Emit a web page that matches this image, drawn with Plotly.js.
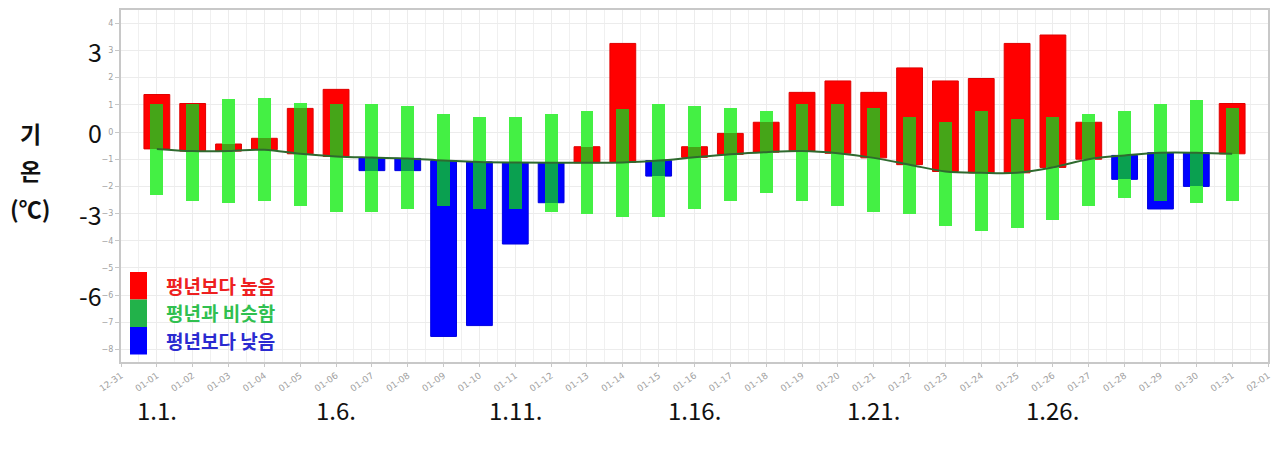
<!DOCTYPE html>
<html><head><meta charset="utf-8">
<script src="https://cdn.plot.ly/plotly-3.0.1.min.js"></script>
<style>html,body{margin:0;padding:0;background:#fff}#chart{width:1280px;height:453px}</style>
</head><body><div id="chart"></div>
<script>
// ---- data ----
const tickLabels = ["12-31","01-01","01-02","01-03","01-04","01-05","01-06","01-07","01-08","01-09","01-10",
  "01-11","01-12","01-13","01-14","01-15","01-16","01-17","01-18","01-19","01-20",
  "01-21","01-22","01-23","01-24","01-25","01-26","01-27","01-28","01-29","01-30","01-31","02-01"];
const days = [1,2,3,4,5,6,7,8,9,10,11,12,13,14,15,16,17,18,19,20,21,22,23,24,25,26,27,28,29,30,31];
// observed temperature (top of red / bottom of blue bar)
const actual = [1.38,1.05,-0.44,-0.23,0.87,1.57,-1.42,-1.42,-7.52,-7.12,-4.12,-2.60,-0.54,3.26,-1.62,
  -0.54,-0.05,0.36,1.46,1.88,1.46,2.36,1.88,1.97,3.26,3.57,0.36,-1.74,-2.83,-2.00,1.05];
// normal (line)
const normal = [-0.62,-0.70,-0.70,-0.65,-0.80,-0.90,-0.94,-0.97,-1.05,-1.10,-1.12,-1.13,-1.13,-1.12,-1.05,
  -0.93,-0.82,-0.74,-0.70,-0.78,-0.95,-1.20,-1.45,-1.50,-1.50,-1.30,-1.00,-0.86,-0.76,-0.76,-0.80];
// normal range
const upper = [1.05,1.05,1.20,1.27,1.08,1.05,1.05,0.96,0.66,0.54,0.54,0.66,0.77,0.84,1.05,
  0.96,0.87,0.77,1.05,1.05,0.87,0.54,0.36,0.77,0.47,0.54,0.65,0.77,1.05,1.18,0.87];
const lower = [-2.32,-2.54,-2.62,-2.54,-2.72,-2.93,-2.93,-2.83,-2.72,-2.83,-2.83,-2.93,-3.03,-3.14,-3.14,
  -2.83,-2.54,-2.23,-2.54,-2.72,-2.93,-3.03,-3.44,-3.64,-3.52,-3.24,-2.72,-2.44,-2.54,-2.62,-2.54];
const dateLabels = ["1.1.","1.6.","1.11.","1.16.","1.21.","1.26."];
const dateLabelDays = [1,6,11,16,21,26];
const bigTicks = [3,0,-3,-6];
const legendNames = ["평년보다 높음","평년과 비슷함","평년보다 낮음"];

// ---- derived traces ----
const hi = {x:[],base:[],y:[]}, lo = {x:[],base:[],y:[]}, ovR = {x:[],base:[],y:[]}, ovB = {x:[],base:[],y:[]};
days.forEach((d,i)=>{
  const a = actual[i], n = normal[i];
  if (a >= n) {
    hi.x.push(d); hi.base.push(n); hi.y.push(a-n);
    const b = Math.max(n, lower[i]), t = Math.min(a, upper[i]);
    if (t > b) { ovR.x.push(d); ovR.base.push(b); ovR.y.push(t-b); }
  } else {
    lo.x.push(d); lo.base.push(a); lo.y.push(n-a);
    const b = Math.max(a, lower[i]), t = Math.min(n, upper[i]);
    if (t > b) { ovB.x.push(d); ovB.base.push(b); ovB.y.push(t-b); }
  }
});
const W1 = 0.72, W2 = 0.36;
const traces = [
  {type:'bar', x:hi.x, base:hi.base, y:hi.y, width:W1, marker:{color:'#ff0000', line:{color:'#e00000', width:1}}},
  {type:'bar', x:lo.x, base:lo.base, y:lo.y, width:W1, marker:{color:'#0000ff', line:{color:'#0000e0', width:1}}},
  {type:'bar', x:days, base:lower, y:upper.map((u,i)=>u-lower[i]), width:W2, marker:{color:'#44f044'}},
  {type:'bar', x:ovR.x, base:ovR.base, y:ovR.y, width:W2, marker:{color:'#45a518'}},
  {type:'bar', x:ovB.x, base:ovB.base, y:ovB.y, width:W2, marker:{color:'#0aa050'}},
  {type:'scatter', mode:'lines', x:days, y:normal, line:{color:'#2f6a2f', width:2, shape:'spline'}}
];

const KR = '"Noto Sans CJK KR", "Noto Sans", sans-serif';
const annotations = [];
bigTicks.forEach(v=>annotations.push({xref:'paper', yref:'y', x:-0.015, y:v, xanchor:'right', yanchor:'middle',
  text:String(v), showarrow:false, font:{family:KR, size:25, color:'#111'}}));
dateLabels.forEach((t,i)=>annotations.push({xref:'x', yref:'paper', x:dateLabelDays[i], y:-(409-362)/352, xanchor:'center', yanchor:'middle',
  text:t, showarrow:false, font:{family:KR, size:24, color:'#111'}}));
const yl = [['기',133],['온',170],['(℃)',208]];
yl.forEach(([t,py])=>annotations.push({xref:'paper', yref:'paper', x:(30-121)/1147, y:(362-py)/352, xanchor:'center', yanchor:'middle',
  text:'<b>'+t+'</b>', showarrow:false, font:{family:KR, size:23, color:'#111'}}));
const legColors = ['#ff0000','#22b24a','#0000ff'];
const legText = ['#ee2020','#30c050','#2a2ad0'];
const shapes = [];
legendNames.forEach((nm,i)=>{
  const y0 = 272 + i*27.5, y1 = y0 + 27.5;
  shapes.push({type:'rect', xref:'paper', yref:'paper', x0:(130-121)/1147, x1:(147-121)/1147,
    y0:(362-y1)/352, y1:(362-y0)/352, line:{width:0}, fillcolor:legColors[i]});
  annotations.push({xref:'paper', yref:'paper', x:(165-121)/1147, y:(362-(y0+13))/352, xanchor:'left', yanchor:'middle',
    text:'<b>'+nm+'</b>', showarrow:false, borderpad:0, font:{family:KR, size:19, color:legText[i]}});
});

const layout = {
  width:1280, height:453, margin:{l:121, r:12, t:10, b:91},
  paper_bgcolor:'#fff', plot_bgcolor:'#fff', showlegend:false, barmode:'overlay', bargap:0,
  hovermode:false,
  xaxis:{range:[0,32], tickmode:'array', tickvals:tickLabels.map((_,i)=>i), ticktext:tickLabels,
    tickangle:-35, tickfont:{family:'DejaVu Sans', size:9, color:'#a0a0a0'},
    showgrid:true, gridcolor:'#ececec', gridwidth:1,
    minor:{dtick:0.5, tick0:0, showgrid:true, gridcolor:'#f0f0f0', gridwidth:1},
    showline:true, linecolor:'#c8c8c8', linewidth:2, mirror:true, ticks:'outside', ticklen:3, tickcolor:'#c8c8c8', zeroline:false},
  yaxis:{range:[-8.46,4.49], tickmode:'linear', tick0:0, dtick:1,
    tickfont:{family:'DejaVu Sans', size:8, color:'#a0a0a0'},
    showgrid:true, gridcolor:'#ececec', gridwidth:1, zeroline:false,
    showline:true, linecolor:'#c8c8c8', linewidth:2, mirror:true, ticks:'outside', ticklen:4, tickcolor:'#c8c8c8'},
  annotations, shapes
};
Plotly.newPlot('chart', traces, layout, {staticPlot:true, displayModeBar:false});
</script></body></html>
